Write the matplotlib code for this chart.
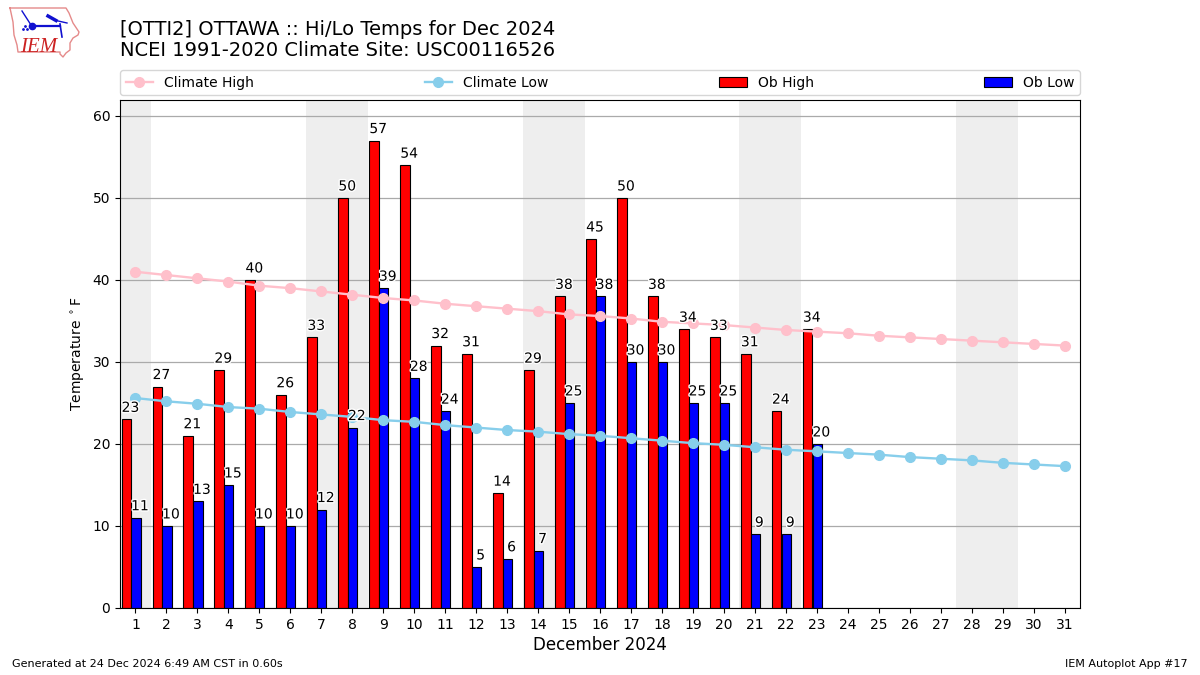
import numpy as np
import matplotlib
matplotlib.use("Agg")
import matplotlib.pyplot as plt
import matplotlib.patheffects as pe

days = np.arange(1, 32)
ob_high = [23, 27, 21, 29, 40, 26, 33, 50, 57, 54, 32, 31, 14, 29, 38, 45, 50, 38, 34, 33, 31, 24, 34]
ob_low = [11, 10, 13, 15, 10, 10, 12, 22, 39, 28, 24, 5, 6, 7, 25, 38, 30, 30, 25, 25, 9, 9, 20]
climate_high = [41.0, 40.6, 40.2, 39.8, 39.3, 39.0, 38.6, 38.2, 37.8, 37.5, 37.1, 36.8, 36.5, 36.2, 35.8, 35.6,
                35.3, 34.9, 34.7, 34.5, 34.2, 33.9, 33.7, 33.5, 33.2, 33.0, 32.8, 32.6, 32.4, 32.2, 32.0]
climate_low = [25.6, 25.2, 24.9, 24.5, 24.3, 23.9, 23.6, 23.3, 22.9, 22.7, 22.3, 22.0, 21.7, 21.5, 21.2, 21.0,
               20.7, 20.4, 20.1, 19.9, 19.6, 19.3, 19.1, 18.9, 18.7, 18.4, 18.2, 18.0, 17.7, 17.5, 17.3]
weekend_spans = [(0.5, 1.5), (6.5, 8.5), (13.5, 15.5), (20.5, 22.5), (27.5, 29.5)]

fig = plt.figure(figsize=(12, 6.75), dpi=100)
ax = fig.add_axes([0.1, 0.0993, 0.8, 0.7526])

# weekend shading
for start, end in weekend_spans:
    ax.axvspan(start, end, color="#eeeeee", lw=0, zorder=0)

ax.yaxis.grid(True, color="#aaaaaa", lw=0.9)
ax.set_axisbelow(True)

x_high = days[:len(ob_high)] - 0.295
x_low = days[:len(ob_low)] + 0.015
ax.bar(x_high, ob_high, width=0.31, color="red", edgecolor="black", lw=0.8, label="Ob High", zorder=2)
ax.bar(x_low, ob_low, width=0.3, color="blue", edgecolor="black", lw=0.8, label="Ob Low", zorder=2)

ax.plot(days, climate_high, color="pink", marker="o", ms=7, lw=1.7, label="Climate High", zorder=3)
ax.plot(days, climate_low, color="skyblue", marker="o", ms=7, lw=1.7, label="Climate Low", zorder=3)

# value labels
stroke = [pe.withStroke(linewidth=2, foreground="white")]
for x, v in zip(x_high, ob_high):
    ax.text(x + 0.13, v + 0.55, str(v), ha="center", va="bottom", fontsize=10, path_effects=stroke, zorder=4)
for x, v in zip(x_low, ob_low):
    ax.text(x + 0.13, v + 0.55, str(v), ha="center", va="bottom", fontsize=10, path_effects=stroke, zorder=4)

ax.set_xlim(0.5, 31.5)
ax.set_ylim(0, 61.95)
ax.set_xticks(days)
ax.set_yticks(np.arange(0, 61, 10))
ax.tick_params(labelsize=10)
ax.set_xlabel("December 2024", fontsize=12, labelpad=3)
ax.set_ylabel(r"Temperature $^\circ$F", fontsize=10)

handles, labels = ax.get_legend_handles_labels()
order = [labels.index(n) for n in ["Climate High", "Climate Low", "Ob High", "Ob Low"]]
ax.legend([handles[i] for i in order], [labels[i] for i in order], ncol=4, mode="expand",
          loc="lower left", bbox_to_anchor=(0, 1.0095, 1, 0.05), borderaxespad=0, fontsize=10)

fig.text(0.1, 0.942, "[OTTI2] OTTAWA :: Hi/Lo Temps for Dec 2024", fontsize=14, va="bottom")
fig.text(0.1, 0.9105, "NCEI 1991-2020 Climate Site: USC00116526", fontsize=14, va="bottom")
fig.text(0.01, 0.012, "Generated at 24 Dec 2024 6:49 AM CST in 0.60s", fontsize=8)
fig.text(0.99, 0.012, "IEM Autoplot App #17", fontsize=8, ha="right")

# small IEM logo, pixel coordinates of the figure
logo = fig.add_axes([0, 0.9, 0.07, 0.1])
logo.set_xlim(0, 84)
logo.set_ylim(67.5, 0)
logo.axis("off")
outline_x = [10, 55, 66, 69, 73, 79, 78, 73, 70, 70, 66, 63, 60, 60, 18, 17, 14, 13, 10]
outline_y = [8, 8, 8, 13, 23, 32, 35, 38, 43, 50, 53, 57, 54, 52, 52, 45, 35, 22, 8]
logo.plot(outline_x, outline_y, color="#e58a8a", lw=1)
logo.plot([32, 60], [26, 26], color="#1010d0", lw=1.6)
logo.plot([32], [26], "o", color="#1010d0", ms=4.5)
logo.plot([48, 56], [16, 20.5], color="#1010d0", lw=2.5)
logo.plot([56, 67], [20.5, 23], color="#1010d0", lw=1)
logo.plot([60, 62], [24, 37], color="#1010d0", lw=1.2)
logo.plot([22, 31], [11, 25], color="#1010d0", lw=1)
logo.plot([23, 25, 27], [29, 26, 29], ".", color="#1010d0", ms=2)
logo.text(20, 52, "IEM", color="#cc2222", fontsize=15, style="italic", family="Liberation Serif", va="baseline")

fig.savefig("out.png", dpi=100)
